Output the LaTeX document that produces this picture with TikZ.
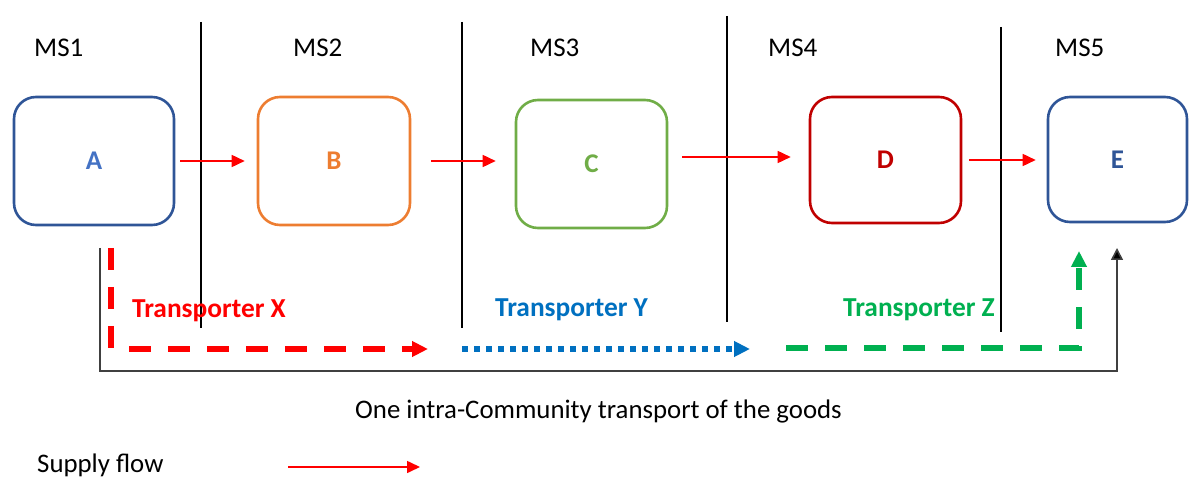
\documentclass[tikz,border=0pt]{standalone}
\usepackage{fontspec}
\setmainfont{Carlito}
\usetikzlibrary{arrows.meta}
\definecolor{cA}{HTML}{2F5597}
\definecolor{tA}{HTML}{4472C4}
\definecolor{cB}{HTML}{ED7D31}
\definecolor{cC}{HTML}{70AD47}
\definecolor{cD}{HTML}{C00000}
\definecolor{cE}{HTML}{2F5597}
\definecolor{flowred}{HTML}{FF0000}
\definecolor{tblue}{HTML}{0070C0}
\definecolor{tgreen}{HTML}{00B050}
\definecolor{bracket}{HTML}{404040}
\tikzset{
  msbox/.style={draw=#1, line width=2.6pt, rounded corners=22pt, font=\fontsize{27}{31}\selectfont\bfseries},
  mslabel/.style={anchor=base west, inner sep=0pt, font=\fontsize{27}{31}\selectfont},
  translabel/.style={anchor=base west, inner sep=0pt, font=\fontsize{27.4}{31}\selectfont\bfseries},
  plainlabel/.style={anchor=base west, inner sep=0pt, font=\fontsize{26.8}{31}\selectfont},
  flow/.style={draw=flowred, line width=1.6pt, -{Triangle[length=13pt,width=12pt]}},
  sepline/.style={draw=black, line width=1.4pt},
  transX/.style={draw=flowred, line width=5.5pt, dash pattern=on 22pt off 17pt},
  transY/.style={draw=tblue, line width=6pt, dash pattern=on 6pt off 6pt},
  transZ/.style={draw=tgreen, line width=5.5pt, dash pattern=on 22pt off 17pt},
  bigtip/.style={-{Triangle[length=16pt,width=15pt]}},
  brk/.style={draw=bracket, line width=1.6pt, -{Triangle[length=12pt,width=12pt,fill=black]}}
}
\begin{document}
\begin{tikzpicture}[x=1pt,y=-1pt]
\useasboundingbox (0,0) rectangle (1189,478);

% separators
\coordinate (s1t) at (201,22);  \coordinate (s1b) at (201,328);
\coordinate (s2t) at (462,22);  \coordinate (s2b) at (462,328);
\coordinate (s3t) at (727,16);  \coordinate (s3b) at (727,322);
\coordinate (s4t) at (1001,27); \coordinate (s4b) at (1001,332);
\draw[sepline] (s1t) -- (s1b);
\draw[sepline] (s2t) -- (s2b);
\draw[sepline] (s3t) -- (s3b);
\draw[sepline] (s4t) -- (s4b);

% MS labels
\node[mslabel] (ms1) at (34,57) {MS1};
\node[mslabel] (ms2) at (293,57) {MS2};
\node[mslabel] (ms3) at (530,57) {MS3};
\node[mslabel] (ms4) at (768,57) {MS4};
\node[mslabel] (ms5) at (1055,57) {MS5};

% boxes
\node[msbox=cA, text=tA, minimum width=160pt, minimum height=128pt] (A) at (94,161) {A};
\node[msbox=cB, text=cB, minimum width=152pt, minimum height=128pt] (B) at (334,161) {B};
\node[msbox=cC, text=cC, minimum width=151pt, minimum height=128pt] (C) at (591.5,164) {C};
\node[msbox=cD, text=cD, minimum width=151pt, minimum height=126pt] (D) at (885.5,160) {D};
\node[msbox=cE, text=cE, minimum width=139pt, minimum height=125pt] (E) at (1117.5,159.5) {E};

% supply flow arrows
\draw[flow] ([xshift=5pt]A.east) -- ([xshift=-12pt]B.west);
\draw[flow] ([xshift=20pt]B.east) -- ([xshift=-19pt]B.east -| C.west);
\draw[flow] ([xshift=14pt,yshift=3pt]D.west -| C.east) -- ([xshift=-18pt,yshift=3pt]D.west);
\draw[flow] ([xshift=7pt]D.east) -- ([xshift=-11pt]D.east -| E.west);

% transporter X
\coordinate (xv1) at (111,248);
\coordinate (xv2) at (111,351);
\coordinate (xh1) at (129,349);
\coordinate (xh2) at (428,349);
\draw[transX] (xv1) -- (xv2);
\draw[transX, bigtip] (xh1) -- (xh2);

% transporter Y
\coordinate (y1) at (462,349);
\coordinate (y2) at (750,349);
\draw[transY, bigtip] (y1) -- (y2);

% transporter Z
\coordinate (z1) at (786,348);
\coordinate (zc) at (1079,348);
\coordinate (z2) at (1079,251);
\draw[transZ, bigtip] (z1) -- (zc) -- (z2);

% black bracket
\coordinate (b1) at (100,248);
\coordinate (b2) at (100,371);
\coordinate (b3) at (1117,371);
\coordinate (b4) at (1117,248);
\draw[brk] (b1) -- (b2) -- (b3) -- (b4);

% transporter labels
\node[translabel, text=flowred] (tx) at (132,318) {Transporter X};
\node[translabel, text=tblue] (ty) at (495,317) {Transporter Y};
\node[translabel, text=tgreen] (tz) at (843,317) {Transporter Z};

% bottom texts
\node[plainlabel] (one) at (355,418) {One intra-Community transport of the goods};
\node[plainlabel] (sf) at (37,472) {Supply flow};
\coordinate (sfa1) at (288,467);
\coordinate (sfa2) at (420,467);
\draw[flow] (sfa1) -- (sfa2);
\end{tikzpicture}
\end{document}
